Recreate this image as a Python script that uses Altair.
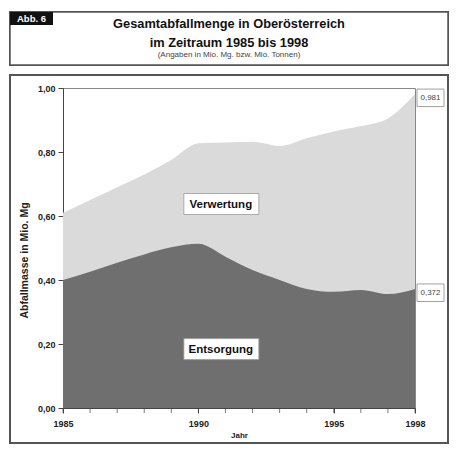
import altair as alt
import pandas as pd

years = list(range(1985, 1999))
gesamt = [0.61, 0.65, 0.69, 0.73, 0.775, 0.827, 0.83, 0.832, 0.819, 0.843, 0.864, 0.881, 0.905, 0.981]
entsorgung = [0.40, 0.426, 0.454, 0.48, 0.502, 0.513, 0.473, 0.431, 0.40, 0.372, 0.363, 0.369, 0.356, 0.372]
x_label_years = [1985, 1990, 1995, 1998]
y_ticks = [0.0, 0.2, 0.4, 0.6, 0.8, 1.0]

title_lines = ["Gesamtabfallmenge in Oberösterreich", "im Zeitraum 1985 bis 1998"]
subtitle = "(Angaben in Mio. Mg. bzw. Mio. Tonnen)"
fig_label = "Abb. 6"
series_names = ["Verwertung", "Entsorgung"]
series_label_pos = [(1990.83, 0.6375), (1990.83, 0.184)]

FONT = "Liberation Sans"

df = pd.DataFrame({"Jahr": years, "Gesamt": gesamt, "Entsorgung": entsorgung})
names_df = pd.DataFrame({
    "name": series_names,
    "x": [p[0] for p in series_label_pos],
    "y": [p[1] for p in series_label_pos],
})
end_df = pd.DataFrame({
    "Jahr": [years[-1], years[-1]],
    "v": [gesamt[-1], entsorgung[-1]],
})
end_df["txt"] = end_df["v"].map(lambda v: f"{v:.3f}".replace(".", ","))

xscale = alt.Scale(domain=[1985, 1998], nice=False, zero=False)
yscale = alt.Scale(domain=[0, 1], nice=False)

x_enc = alt.X(
    "Jahr:Q", scale=xscale, title="Jahr",
    axis=alt.Axis(
        values=x_label_years,
        format="d", labelFlush=False, labelOverlap=False,
        tickSize=5, labelPadding=6, titlePadding=3,
        labelFont=FONT, labelFontSize=9, labelFontWeight="bold", labelColor="#222",
        titleFont=FONT, titleFontSize=8, titleFontWeight="bold", titleColor="#222",
        domainColor="#444", tickColor="#444", grid=False,
    ),
)
y_enc = alt.Y(
    "Gesamt:Q", scale=yscale, title="Abfallmasse in Mio. Mg",
    axis=alt.Axis(
        values=y_ticks,
        labelExpr="replace(format(datum.value, '.2f'), '.', ',')",
        tickSize=5, labelPadding=3, labelFlush=False,
        labelFont=FONT, labelFontSize=9, labelFontWeight="bold", labelColor="#222",
        titleFont=FONT, titleFontSize=10.5, titleFontWeight="bold", titleColor="#222",
        titleX=-39, titleY=172, titleAngle=270, titleAlign="center", titleBaseline="middle",
        domainColor="#444", tickColor="#444", grid=False,
    ),
)

area_total = alt.Chart(df).mark_area(color="#dadada", interpolate="monotone").encode(
    x=x_enc, y=y_enc
)
area_ent = alt.Chart(df).mark_area(color="#6f6f6f", interpolate="monotone").encode(
    x=alt.X("Jahr:Q", scale=xscale),
    y=alt.Y("Entsorgung:Q", scale=yscale),
)

# yearly tick marks below the x axis
year_ticks = alt.Chart(df).mark_tick(
    orient="vertical", size=5, thickness=1, color="#444", yOffset=2.5
).encode(
    x=alt.X("Jahr:Q", scale=xscale),
    y=alt.value(320),
)

name_box = alt.Chart(names_df).mark_rect(
    fill="white", stroke="#999", strokeWidth=0.8,
    xOffset=-37, x2Offset=38, yOffset=-10.5, y2Offset=10.5,
).encode(
    x=alt.X("x:Q", scale=xscale), x2="x:Q",
    y=alt.Y("y:Q", scale=yscale), y2="y:Q",
)
name_txt = alt.Chart(names_df).mark_text(
    font=FONT, fontSize=11.5, fontWeight="bold", color="#111", baseline="middle", dy=0.5,
).encode(
    x=alt.X("x:Q", scale=xscale), y=alt.Y("y:Q", scale=yscale), text="name:N"
)

end_box = alt.Chart(end_df).mark_rect(
    fill="white", stroke="#888", strokeWidth=0.8,
    xOffset=2, x2Offset=29, yOffset=-5, y2Offset=12.5,
).encode(
    x=alt.X("Jahr:Q", scale=xscale), x2="Jahr:Q",
    y=alt.Y("v:Q", scale=yscale), y2="v:Q",
)
end_txt = alt.Chart(end_df).mark_text(
    font=FONT, fontSize=8, color="#444", baseline="middle", dx=15.5, dy=3.8,
).encode(
    x=alt.X("Jahr:Q", scale=xscale), y=alt.Y("v:Q", scale=yscale), text="txt:N"
)

# decorative frames (pixel coordinates relative to plot area)
title_frame = alt.Chart(df).mark_rect(fill="white", stroke="#555", strokeWidth=1.5).encode(
    x=alt.value(-53), x2=alt.value(385), y=alt.value(-76), y2=alt.value(-23)
)
chart_frame = alt.Chart(df).mark_rect(fill=None, stroke="#555", strokeWidth=1.5).encode(
    x=alt.value(-53), x2=alt.value(385), y=alt.value(-13), y2=alt.value(355)
)
abb_box = alt.Chart(df).mark_rect(fill="#111").encode(
    x=alt.value(-53), x2=alt.value(-10), y=alt.value(-76), y2=alt.value(-63)
)
abb_txt = alt.Chart(pd.DataFrame({"t": [fig_label]})).mark_text(
    font=FONT, fontSize=9.5, fontWeight="bold", color="white", baseline="middle", align="center"
).encode(x=alt.value(-31.5), y=alt.value(-69.5), text="t:N")

title_df = pd.DataFrame({"t": title_lines, "y": [-64, -45]})
title_txt = alt.Chart(title_df).mark_text(
    font=FONT, fontSize=12.8, fontWeight="bold", color="#111", baseline="middle", align="center"
).encode(x=alt.value(166), y=alt.Y("y:Q", scale=None), text="t:N")
sub_txt = alt.Chart(pd.DataFrame({"t": [subtitle]})).mark_text(
    font=FONT, fontSize=8, color="#444", baseline="middle", align="center"
).encode(x=alt.value(166), y=alt.value(-33.5), text="t:N")

chart = alt.layer(
    title_frame, chart_frame, abb_box, abb_txt, title_txt, sub_txt,
    area_total, area_ent, year_ticks, name_box, name_txt, end_box, end_txt,
).properties(
    width=352, height=320,
    autosize=alt.AutoSizeParams(type="none"),
    padding={"left": 55, "top": 80, "right": 35, "bottom": 45},
    background="white",
).configure_view(stroke="#888", strokeWidth=1)

chart.save("out.html", embed_options={"renderer": "svg", "actions": False})
